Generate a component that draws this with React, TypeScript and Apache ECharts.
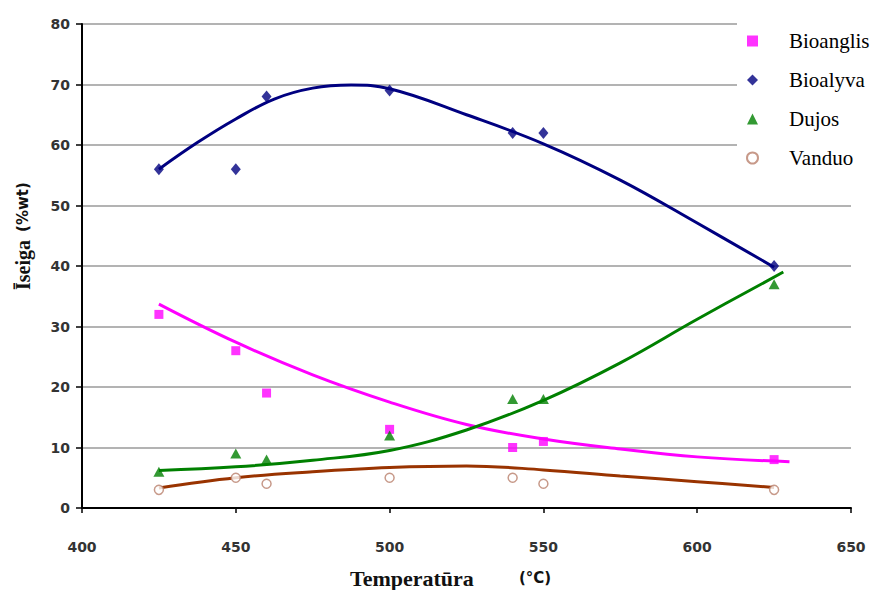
import React, { useEffect, useRef } from "react";
import * as echarts from "echarts";

// Measured points
const temps = [425, 450, 460, 500, 540, 550, 625];
const bioanglis = [32, 26, 19, 13, 10, 11, 8];
const bioalyva = [56, 56, 68, 69, 62, 62, 40];
const dujos = [6, 9, 8, 12, 18, 18, 37];
const vanduo = [3, 5, 4, 5, 5, 4, 3];

// Trend lines
const trendAnglisX = [425, 450, 475, 500, 525, 550, 575, 600, 630];
const trendAnglisY = [33.7, 27.4, 22.0, 17.5, 13.8, 11.4, 9.75, 8.45, 7.65];
const trendAlyvaX = [425, 437.5, 450, 462.5, 475, 487.5, 500, 525, 550, 575, 600, 625];
const trendAlyvaY = [56.0, 60.4, 64.3, 67.6, 69.4, 69.9, 69.3, 65.0, 60.2, 54.2, 47.1, 39.8];
const trendDujosX = [425, 450, 475, 500, 525, 550, 575, 600, 628];
const trendDujosY = [6.2, 6.8, 7.9, 9.5, 12.9, 17.8, 24.0, 31.2, 39.0];
const trendVanduoX = [425, 450, 475, 500, 525, 550, 575, 600, 625];
const trendVanduoY = [3.3, 5.0, 6.0, 6.7, 6.95, 6.3, 5.3, 4.35, 3.4];

// Axis ticks
const xMin = 400, xMax = 650, xStep = 50;
const yMin = 0, yMax = 80, yStep = 10;

const legendNames = ["Bioanglis", "Bioalyva", "Dujos", "Vanduo"];

const zip = (xs: number[], ys: number[]) => xs.map((x, i) => [x, ys[i]]);

export default function App() {
  const ref = useRef<HTMLDivElement>(null);
  useEffect(() => {
    document.body.style.margin = "0";
    const chart = echarts.init(ref.current!, null, { renderer: "svg" });
    const tickFont = {
      fontFamily: "DejaVu Sans",
      fontWeight: "bold" as const,
      fontSize: 14,
      color: "#333",
    };
    const trend = (name: string, xs: number[], ys: number[], color: string) => ({
      name,
      type: "line",
      data: zip(xs, ys),
      smooth: 0.4,
      showSymbol: false,
      symbol: "none",
      silent: true,
      lineStyle: { color, width: 3 },
      z: 2,
    });
    chart.setOption({
      animation: false,
      backgroundColor: "#fff",
      grid: { left: 82, right: 28, top: 24, bottom: 82, containLabel: false, outerBoundsMode: "none" },
      xAxis: {
        type: "value",
        min: xMin,
        max: xMax,
        interval: xStep,
        axisLine: { show: true, lineStyle: { color: "#000", width: 2 } },
        axisTick: { show: true, length: 5, lineStyle: { color: "#000", width: 1.5 } },
        axisLabel: { ...tickFont, margin: 32 },
        splitLine: { show: false },
      },
      yAxis: {
        type: "value",
        min: yMin,
        max: yMax,
        interval: yStep,
        axisLine: { show: true, lineStyle: { color: "#000", width: 2 } },
        axisTick: { show: true, length: 6, lineStyle: { color: "#000", width: 1.5 } },
        axisLabel: { ...tickFont, margin: 12 },
        splitLine: { show: true, lineStyle: { color: "#9a9a9a", width: 1.5 } },
      },
      legend: {
        data: legendNames,
        orient: "vertical",
        left: 737,
        top: 22,
        padding: [8, 10, 8, 9],
        backgroundColor: "#fff",
        itemWidth: 11,
        itemHeight: 11,
        itemGap: 17,
        textStyle: {
          fontFamily: "Liberation Serif",
          fontSize: 21,
          lineHeight: 22,
          color: "#000",
          padding: [0, 0, 0, 26],
        },
      },
      graphic: [
        {
          type: "text",
          x: 23,
          y: 265,
          rotation: Math.PI / 2,
          style: {
            text: "Īseiga",
            font: 'bold 20px "Liberation Serif"',
            fill: "#111",
            align: "center",
            verticalAlign: "middle",
          },
        },
        {
          type: "text",
          x: 23,
          y: 207,
          rotation: Math.PI / 2,
          style: {
            text: "(%wt)",
            font: 'bold 15px "DejaVu Sans"',
            fill: "#111",
            align: "center",
            verticalAlign: "middle",
          },
        },
        {
          type: "text",
          x: 350,
          y: 578,
          style: {
            text: "Temperatūra",
            font: 'bold 22px "Liberation Serif"',
            fill: "#111",
            align: "left",
            verticalAlign: "middle",
          },
        },
        {
          type: "text",
          x: 519,
          y: 578,
          style: {
            text: "(°C)",
            font: 'bold 15px "DejaVu Sans"',
            fill: "#111",
            align: "left",
            verticalAlign: "middle",
          },
        },
      ],
      series: [
        trend("Bioanglis trend", trendAnglisX, trendAnglisY, "#ff00ff"),
        trend("Bioalyva trend", trendAlyvaX, trendAlyvaY, "#000080"),
        trend("Dujos trend", trendDujosX, trendDujosY, "#008000"),
        trend("Vanduo trend", trendVanduoX, trendVanduoY, "#993300"),
        {
          name: "Bioanglis",
          type: "scatter",
          data: zip(temps, bioanglis),
          symbol: "rect",
          symbolSize: 9,
          itemStyle: { color: "#ff00ff" },
          z: 3,
        },
        {
          name: "Bioalyva",
          type: "scatter",
          data: zip(temps, bioalyva),
          symbol: "diamond",
          symbolSize: [10, 12],
          itemStyle: { color: "#000080" },
          z: 3,
        },
        {
          name: "Dujos",
          type: "scatter",
          data: zip(temps, dujos),
          symbol: "triangle",
          symbolSize: [11, 10],
          itemStyle: { color: "#008000" },
          z: 3,
        },
        {
          name: "Vanduo",
          type: "scatter",
          data: zip(temps, vanduo),
          symbol: "circle",
          symbolSize: 9,
          itemStyle: { color: "#fff", borderColor: "#b9806b", borderWidth: 1.5 },
          z: 3,
        },
      ],
    });
    return () => chart.dispose();
  }, []);
  return <div ref={ref} style={{ width: 879, height: 590 }} />;
}
